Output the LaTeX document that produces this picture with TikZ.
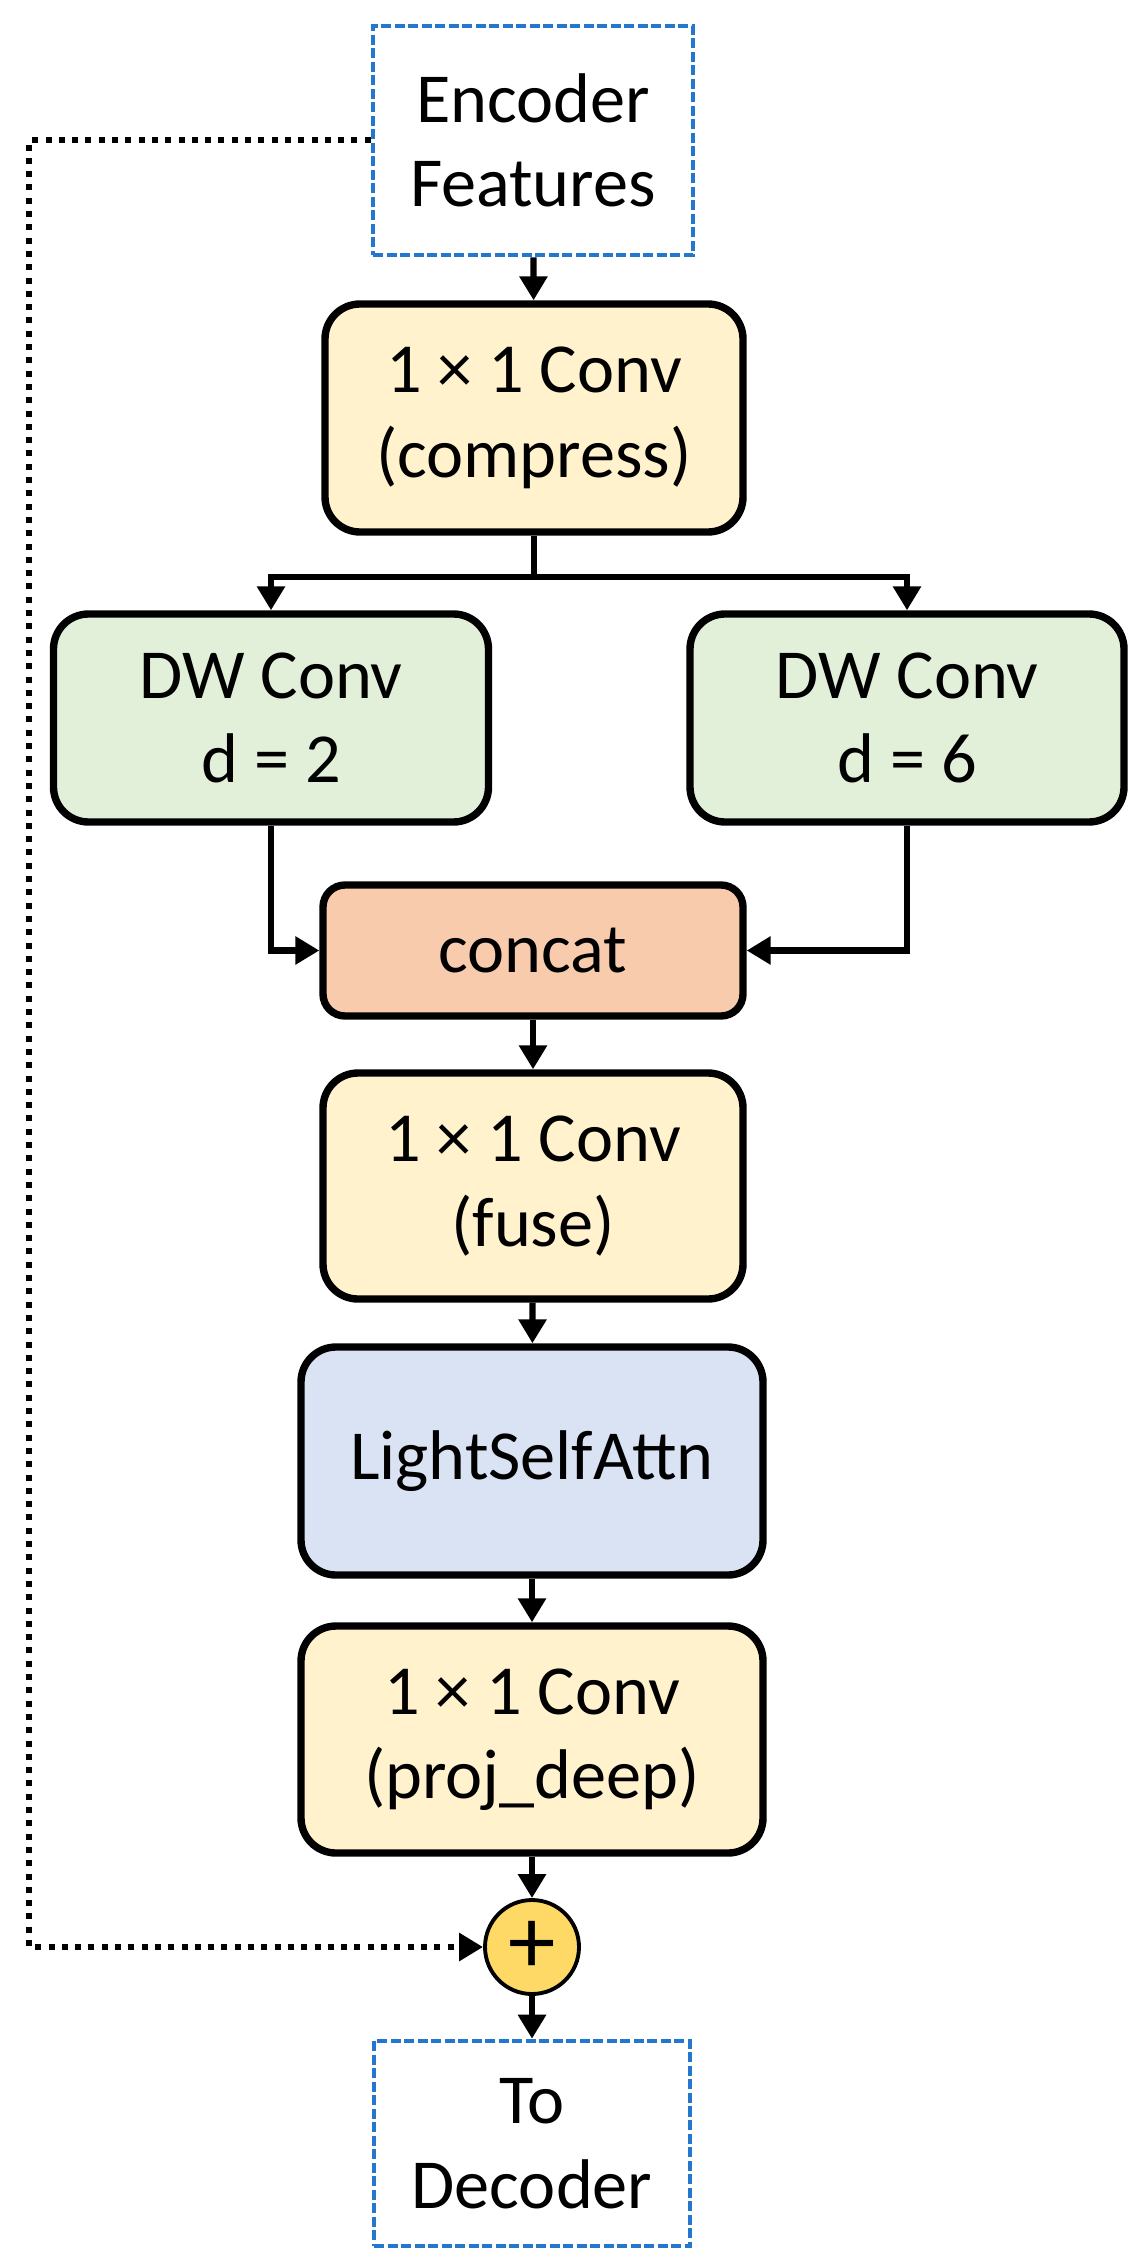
\documentclass[tikz,border=0pt]{standalone}
\usepackage{fontspec}
\setmainfont{Carlito}
\usetikzlibrary{arrows.meta}

\definecolor{ioblue}{RGB}{36,119,207}
\definecolor{convfill}{HTML}{FFF2CC}
\definecolor{dwfill}{HTML}{E2F0D9}
\definecolor{catfill}{HTML}{F8CBAD}
\definecolor{attnfill}{HTML}{DAE3F3}
\definecolor{addfill}{HTML}{FFD966}

\begin{document}
\begin{tikzpicture}[
  block/.style={draw, line width=2.1pt, rounded corners=0.35cm, align=center,
    inner sep=0pt, font=\fontsize{20}{24}\selectfont},
  io/.style={draw=ioblue, line width=1.3pt, dash pattern=on 0.1cm off 0.035cm,
    align=center, inner sep=0pt, font=\fontsize{20}{24}\selectfont},
  arr/.style={line width=1.8pt, -{Triangle[width=0.27cm,length=0.24cm]}},
  shortcut/.style={line width=0.06cm, dash pattern=on 0.06cm off 0.073cm,
    -{Triangle[width=0.27cm,length=0.24cm]}}
]
  \useasboundingbox (0,0) rectangle (11.44,-22.64);

  % Input and output
  \node[io, minimum width=3.20cm, minimum height=2.29cm] (enc) at (5.33,-1.405) {Encoder\\Features};
  \node[io, minimum width=3.16cm, minimum height=2.05cm] (dec) at (5.32,-21.435) {To\\Decoder};

  % Compression
  \node[block, fill=convfill, minimum width=4.18cm, minimum height=2.28cm] (compress) at (5.34,-4.18) {1 × 1 Conv\\(compress)};

  % Two dilated branches
  \node[block, fill=dwfill, minimum width=4.35cm, minimum height=2.08cm] (dw2) at (2.71,-7.18) {DW Conv\\d = 2};
  \node[block, fill=dwfill, minimum width=4.34cm, minimum height=2.08cm] (dw6) at (9.07,-7.18) {DW Conv\\d = 6};

  % Merge and refine
  \node[block, fill=catfill, rounded corners=0.22cm, minimum width=4.20cm, minimum height=1.31cm] (concat) at (5.33,-9.505) {concat};
  \node[block, fill=convfill, minimum width=4.20cm, minimum height=2.26cm] (fuse) at (5.33,-11.86) {1 × 1 Conv\\(fuse)};
  \node[block, fill=attnfill, minimum width=4.62cm, minimum height=2.28cm] (attn) at (5.32,-14.61) {LightSelfAttn};
  \node[block, fill=convfill, minimum width=4.62cm, minimum height=2.27cm] (proj) at (5.32,-17.395) {1 × 1 Conv\\(proj\_deep)};

  % Residual sum
  \node[circle, draw, line width=1.1pt, fill=addfill, minimum size=0.94cm, inner sep=0pt,
    font=\fontsize{27}{27}\selectfont] (add) at (5.32,-19.47) {+};

  % Main path
  \draw[arr] (enc) -- (compress);
  \draw[arr] (compress.south) -- ++(0,-0.41) coordinate (split) -| (dw2.north);
  \draw[arr] (split) -| (dw6.north);
  \draw[arr] (dw2.south) |- (concat.west);
  \draw[arr] (dw6.south) |- (concat.east);
  \draw[arr] (concat) -- (fuse);
  \draw[arr] (fuse) -- (attn);
  \draw[arr] (attn) -- (proj);
  \draw[arr] (proj) -- (add);
  \draw[arr] (add) -- (dec);

  % Skip connection
  \coordinate (skipx) at (0.29,0);
  \draw[shortcut] (enc.west) -- (enc.west -| skipx) |- (add.west);
\end{tikzpicture}
\end{document}
